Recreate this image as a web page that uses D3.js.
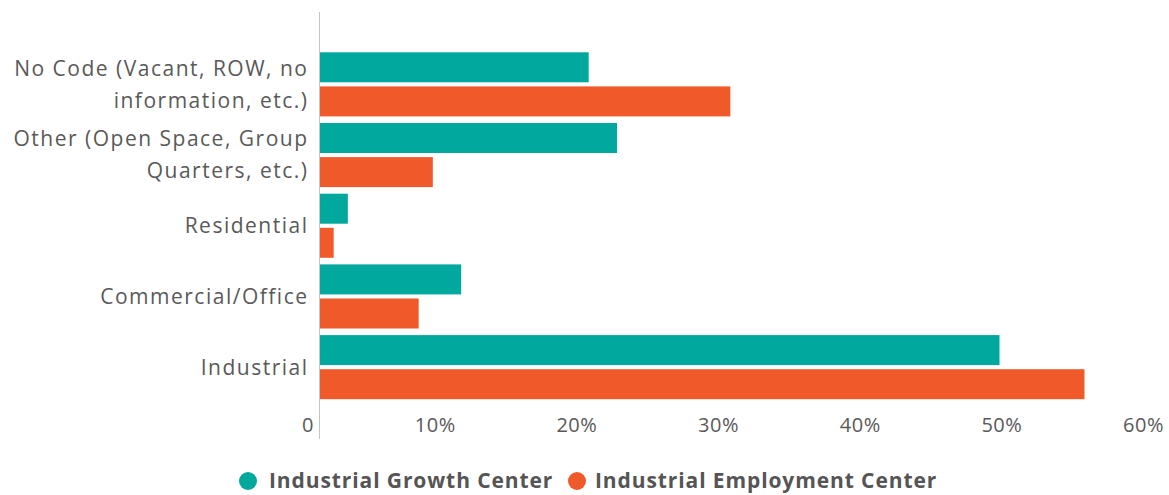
<!DOCTYPE html>
<html>
<head>
<meta charset="utf-8">
<script src="https://cdn.jsdelivr.net/npm/d3@7"></script>
<style>
  html, body { margin: 0; padding: 0; background: #ffffff; }
  svg { display: block; }
  text { font-family: "Open Sans", "Noto Sans", sans-serif; }
</style>
</head>
<body>
<svg id="chart" width="1169" height="495"></svg>
<script>
// Land use categories (top to bottom), each label split into display lines
const categories = [
  "No Code (Vacant, ROW, no information, etc.)",
  "Other (Open Space, Group Quarters, etc.)",
  "Residential",
  "Commercial/Office",
  "Industrial"
];
const categoryLines = [
  ["No Code (Vacant, ROW, no", "information, etc.)"],
  ["Other (Open Space, Group", "Quarters, etc.)"],
  ["Residential"],
  ["Commercial/Office"],
  ["Industrial"]
];

// Share of land area by center type (percent)
const seriesNames = ["Industrial Growth Center", "Industrial Employment Center"];
const growthCenter = [19, 21, 2, 10, 48];
const employmentCenter = [29, 8, 1, 7, 54];

const xTicks = [0, 10, 20, 30, 40, 50, 60];
const xTickLabels = ["0", "10%", "20%", "30%", "40%", "50%", "60%"];

const colors = ["#00A89D", "#F05A2B"];
const textColor = "#595959";

const svg = d3.select("#chart");

const x = d3.scaleLinear().domain([0, 60]).range([319.5, 1169.5]);
const y0 = d3.scaleBand().domain(categories).range([49, 402.5]).paddingInner(0).paddingOuter(0);
const y1 = d3.scaleBand().domain(seriesNames).range([3.3, y0.bandwidth() - 3.3]).paddingInner(0.12);

const rows = categories.map((c, i) => ({
  category: c,
  lines: categoryLines[i],
  values: [growthCenter[i], employmentCenter[i]]
}));

// Bars
const groups = svg.append("g").selectAll("g")
  .data(rows)
  .join("g")
  .attr("transform", d => `translate(0,${y0(d.category)})`);

groups.selectAll("rect")
  .data(d => d.values.map((v, j) => ({ series: seriesNames[j], value: v, j })))
  .join("rect")
  .attr("x", x(0))
  .attr("y", d => y1(d.series))
  .attr("width", d => x(d.value) - x(0))
  .attr("height", y1.bandwidth())
  .attr("fill", d => colors[d.j]);

// Vertical category axis line
svg.append("line")
  .attr("x1", x(0)).attr("x2", x(0))
  .attr("y1", 12).attr("y2", 439)
  .attr("stroke", "#c4c4c4")
  .attr("stroke-width", 1);

// Category labels, right aligned against the axis
const labelX = 308.5;
const lineGap = 32;
const labels = svg.append("g").selectAll("text")
  .data(rows)
  .join("text")
  .attr("text-anchor", "end")
  .attr("fill", textColor)
  .attr("font-size", 21)
  .attr("letter-spacing", "1.5px")
  .attr("transform", d => `translate(${labelX},${y0(d.category) + y0.bandwidth() / 2})`);

labels.selectAll("tspan")
  .data(d => d.lines.map((t, k) => ({ t, k, n: d.lines.length })))
  .join("tspan")
  .attr("x", 0)
  .attr("y", d => (d.k - (d.n - 1) / 2) * lineGap)
  .attr("dy", "0.35em")
  .text(d => d.t);

// Value axis along the bottom (labels only)
const xAxis = d3.axisBottom(x)
  .tickValues(xTicks)
  .tickFormat((d, i) => xTickLabels[i])
  .tickSize(0)
  .tickPadding(0);

const axisG = svg.append("g")
  .attr("transform", "translate(0,425)")
  .call(xAxis);
axisG.select(".domain").remove();
axisG.selectAll("text")
  .attr("text-anchor", "end")
  .attr("dx", -6)
  .attr("dy", "0.35em")
  .attr("y", 0)
  .attr("fill", textColor)
  .attr("font-size", 20)
  .attr("letter-spacing", "0.5px")
  .attr("font-family", "\"Open Sans\", \"Noto Sans\", sans-serif");

// Legend
const legendY = 481;
const legendItems = [
  { name: seriesNames[0], color: colors[0], cx: 248, tx: 269 },
  { name: seriesNames[1], color: colors[1], cx: 577, tx: 595 }
];
const legend = svg.append("g");
legend.selectAll("circle")
  .data(legendItems)
  .join("circle")
  .attr("cx", d => d.cx)
  .attr("cy", legendY)
  .attr("r", 9)
  .attr("fill", d => d.color);
legend.selectAll("text")
  .data(legendItems)
  .join("text")
  .attr("x", d => d.tx)
  .attr("y", legendY)
  .attr("dy", "0.35em")
  .attr("fill", "#555555")
  .attr("font-size", 21)
  .attr("font-weight", 700)
  .attr("letter-spacing", "0.9px")
  .text(d => d.name);
</script>
</body>
</html>
